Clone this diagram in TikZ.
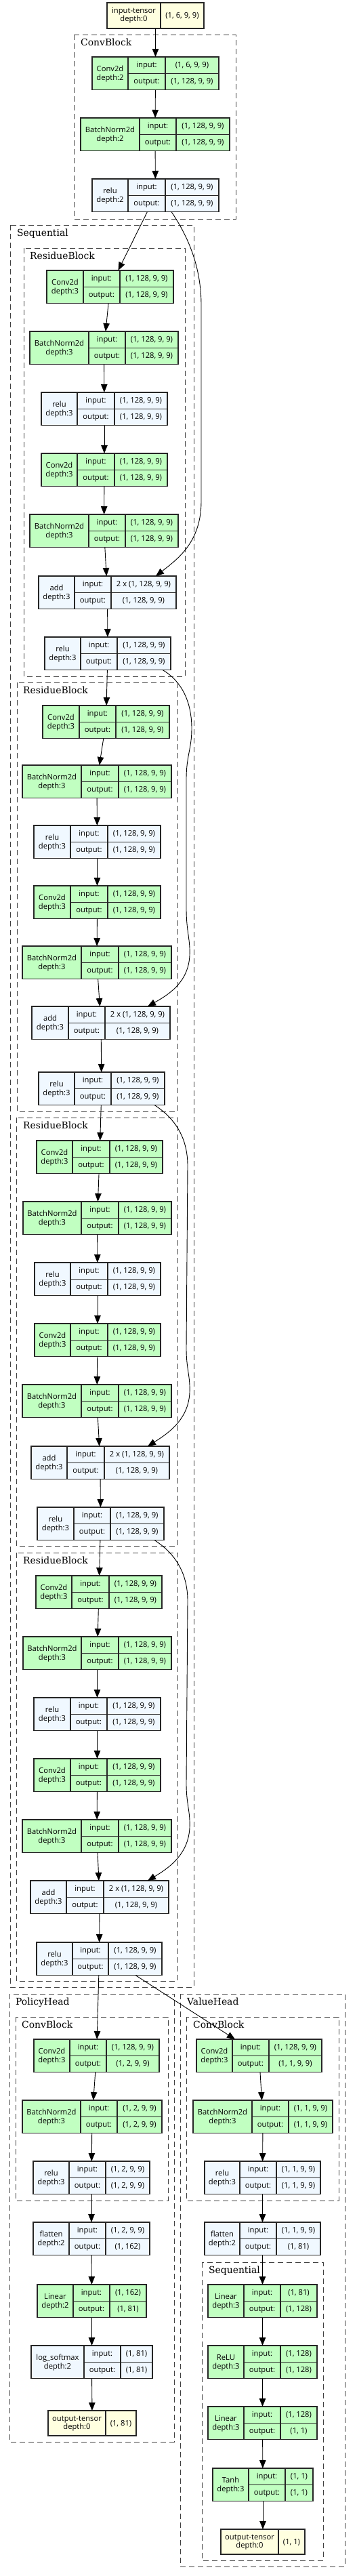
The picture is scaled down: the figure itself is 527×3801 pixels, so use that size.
\documentclass[tikz,border=0pt]{standalone}
\usepackage{fontspec}
\setmainfont{Open Sans}
\newfontfamily\clfont{DejaVu Serif}
\usetikzlibrary{arrows.meta,fit,calc}
\definecolor{gfill}{HTML}{C1FFC1}
\definecolor{bfill}{HTML}{F0F8FF}
\definecolor{yfill}{HTML}{FFFFE0}
\tikzset{
 box/.style={draw=black!85, line width=1.1pt, inner sep=0pt, outer sep=0pt},
 inner/.style={draw=black!85, line width=1.1pt},
 txt/.style={font=\fontsize{11.2}{13}\selectfont, inner sep=0pt, anchor=base},
 cluster/.style={draw=black!75, line width=1pt, dash pattern=on 8pt off 5pt},
 cllabel/.style={font=\clfont\fontsize{13.9}{16}\selectfont, anchor=base west, inner sep=0pt},
 arr/.style={draw=black, line width=0.9pt, -{Triangle[length=12pt,width=9.5pt]}},
}
\def\opparse#1,#2,#3,#4,#5\relax{\def\xa{#1}\def\xb{#2}\def\xc{#3}\def\xd{#4}\def\yt{#5}}
\newcommand\opbox[7]{%
 \opparse#3\relax
 \node[box, fill=#2, fit={(\xa,\yt)(\xd,\yt+48.5)}] (#1) {};
 \draw[inner] (\xb,\yt) -- (\xb,\yt+48.5) (\xc,\yt) -- (\xc,\yt+48.5) (\xb,\yt+24.25) -- (\xd,\yt+24.25);
 \node[txt] (#1-t) at ({(\xa+\xb)/2},\yt+21) {#4};
 \node[txt] (#1-d) at ({(\xa+\xb)/2},\yt+34) {depth:#5};
 \node[txt] (#1-i) at ({(\xb+\xc)/2},\yt+15.5) {input:};
 \node[txt] (#1-o) at ({(\xb+\xc)/2},\yt+39.5) {output:};
 \node[txt] (#1-iv) at ({(\xc+\xd)/2},\yt+15.5) {#6};
 \node[txt] (#1-ov) at ({(\xc+\xd)/2},\yt+39.5) {#7};
}
\def\tparse#1,#2,#3,#4,#5\relax{\def\xa{#1}\def\xb{#2}\def\xc{#3}\def\yt{#4}\def\hh{#5}}
\newcommand\tensbox[4]{%
 \tparse#2\relax
 \node[box, fill=yfill, fit={(\xa,\yt)(\xc,\yt+\hh)}] (#1) {};
 \draw[inner] (\xb,\yt) -- (\xb,\yt+\hh);
 \node[txt] (#1-t) at ({(\xa+\xb)/2},\yt+\hh/2-3.5) {#3};
 \node[txt] (#1-d) at ({(\xa+\xb)/2},\yt+\hh/2+8.5) {depth:0};
 \node[txt] (#1-v) at ({(\xb+\xc)/2},\yt+\hh/2+4) {#4};
}
\begin{document}
\begin{tikzpicture}[x=1pt,y=-1pt]
\fill[white] (0,0) rectangle (527,3801);
\useasboundingbox (0,0) rectangle (527,3801);

% clusters
\draw[cluster] (109,51) rectangle (348,323);
\node[cllabel] (l0) at (119,67) {ConvBlock};
\draw[cluster] (15,332) rectangle (286,2932);
\node[cllabel] (l1) at (25,348) {Sequential};
\draw[cluster] (35,366) rectangle (273,998);
\node[cllabel] (l2) at (44,382) {ResidueBlock};
\draw[cluster] (25,1007) rectangle (262,1640);
\node[cllabel] (l3) at (34,1023) {ResidueBlock};
\draw[cluster] (24,1649) rectangle (262,2281);
\node[cllabel] (l4) at (34,1665) {ResidueBlock};
\draw[cluster] (24,2291) rectangle (262,2923);
\node[cllabel] (l5) at (34,2307) {ResidueBlock};
\draw[cluster] (14,2942) rectangle (257,3603);
\node[cllabel] (l6) at (23,2958) {PolicyHead};
\draw[cluster] (266,2942) rectangle (509,3787);
\node[cllabel] (l7) at (276,2958) {ValueHead};
\draw[cluster] (23,2976) rectangle (248,3247);
\node[cllabel] (l8) at (32,2992) {ConvBlock};
\draw[cluster] (275,2976) rectangle (500,3247);
\node[cllabel] (l9) at (285,2992) {ConvBlock};
\draw[cluster] (298,3338) rectangle (477,3778);
\node[cllabel] (l10) at (308,3354) {Sequential};

% top
\tensbox{in}{158,237,301,4,38}{input-tensor}{(1, 6, 9, 9)}
\opbox{cbc}{gfill}{136,189,244,323,84}{Conv2d}{2}{(1, 6, 9, 9)}{(1, 128, 9, 9)}
\opbox{cbb}{gfill}{119,206,260,339,174}{BatchNorm2d}{2}{(1, 128, 9, 9)}{(1, 128, 9, 9)}
\opbox{cbu}{bfill}{136,189,244,323,264}{relu}{2}{(1, 128, 9, 9)}{(1, 128, 9, 9)}

% block 1
\opbox{r1c1}{gfill}{69,123,177,256,399}{Conv2d}{3}{(1, 128, 9, 9)}{(1, 128, 9, 9)}
\opbox{r1b1}{gfill}{44,131,185,263,489}{BatchNorm2d}{3}{(1, 128, 9, 9)}{(1, 128, 9, 9)}
\opbox{r1u1}{bfill}{61,114,169,247,579}{relu}{3}{(1, 128, 9, 9)}{(1, 128, 9, 9)}
\opbox{r1c2}{gfill}{61,114,169,247,669}{Conv2d}{3}{(1, 128, 9, 9)}{(1, 128, 9, 9)}
\opbox{r1b2}{gfill}{44,131,185,263,759}{BatchNorm2d}{3}{(1, 128, 9, 9)}{(1, 128, 9, 9)}
\opbox{r1a}{bfill}{57,110,164,260,850}{add}{3}{2 x (1, 128, 9, 9)}{(1, 128, 9, 9)}
\opbox{r1u2}{bfill}{66,119,173,252,940}{relu}{3}{(1, 128, 9, 9)}{(1, 128, 9, 9)}

% block 2
\opbox{r2c1}{gfill}{63,117,171,250,1041}{Conv2d}{3}{(1, 128, 9, 9)}{(1, 128, 9, 9)}
\opbox{r2b1}{gfill}{33,120,175,253,1129}{BatchNorm2d}{3}{(1, 128, 9, 9)}{(1, 128, 9, 9)}
\opbox{r2u1}{bfill}{50,104,159,237,1218}{relu}{3}{(1, 128, 9, 9)}{(1, 128, 9, 9)}
\opbox{r2c2}{gfill}{50,104,159,237,1307}{Conv2d}{3}{(1, 128, 9, 9)}{(1, 128, 9, 9)}
\opbox{r2b2}{gfill}{33,120,175,253,1396}{BatchNorm2d}{3}{(1, 128, 9, 9)}{(1, 128, 9, 9)}
\opbox{r2a}{bfill}{47,101,155,251,1485}{add}{3}{2 x (1, 128, 9, 9)}{(1, 128, 9, 9)}
\opbox{r2u2}{bfill}{57,110,164,243,1582}{relu}{3}{(1, 128, 9, 9)}{(1, 128, 9, 9)}

% block 3
\opbox{r3c1}{gfill}{54,107,162,240,1683}{Conv2d}{3}{(1, 128, 9, 9)}{(1, 128, 9, 9)}
\opbox{r3b1}{gfill}{34,120,175,253,1773}{BatchNorm2d}{3}{(1, 128, 9, 9)}{(1, 128, 9, 9)}
\opbox{r3u1}{bfill}{51,104,159,237,1863}{relu}{3}{(1, 128, 9, 9)}{(1, 128, 9, 9)}
\opbox{r3c2}{gfill}{51,104,159,237,1953}{Conv2d}{3}{(1, 128, 9, 9)}{(1, 128, 9, 9)}
\opbox{r3b2}{gfill}{33,120,175,253,2043}{BatchNorm2d}{3}{(1, 128, 9, 9)}{(1, 128, 9, 9)}
\opbox{r3a}{bfill}{46,99,154,250,2134}{add}{3}{2 x (1, 128, 9, 9)}{(1, 128, 9, 9)}
\opbox{r3u2}{bfill}{55,109,163,242,2224}{relu}{3}{(1, 128, 9, 9)}{(1, 128, 9, 9)}

% block 4
\opbox{r4c1}{gfill}{53,106,161,239,2325}{Conv2d}{3}{(1, 128, 9, 9)}{(1, 128, 9, 9)}
\opbox{r4b1}{gfill}{34,120,175,253,2415}{BatchNorm2d}{3}{(1, 128, 9, 9)}{(1, 128, 9, 9)}
\opbox{r4u1}{bfill}{50,104,158,237,2505}{relu}{3}{(1, 128, 9, 9)}{(1, 128, 9, 9)}
\opbox{r4c2}{gfill}{50,104,158,237,2595}{Conv2d}{3}{(1, 128, 9, 9)}{(1, 128, 9, 9)}
\opbox{r4b2}{gfill}{33,120,175,253,2685}{BatchNorm2d}{3}{(1, 128, 9, 9)}{(1, 128, 9, 9)}
\opbox{r4a}{bfill}{45,98,153,249,2775}{add}{3}{2 x (1, 128, 9, 9)}{(1, 128, 9, 9)}
\opbox{r4u2}{bfill}{54,107,160,239,2866}{relu}{3}{(1, 128, 9, 9)}{(1, 128, 9, 9)}

% policy head
\opbox{pc}{gfill}{50,103,157,235,3009}{Conv2d}{3}{(1, 128, 9, 9)}{(1, 2, 9, 9)}
\opbox{pb}{gfill}{33,119,173,239,3099}{BatchNorm2d}{3}{(1, 2, 9, 9)}{(1, 2, 9, 9)}
\opbox{pu}{bfill}{49,102,156,221,3189}{relu}{3}{(1, 2, 9, 9)}{(1, 2, 9, 9)}
\opbox{pf}{bfill}{49,102,156,221,3279}{flatten}{2}{(1, 2, 9, 9)}{(1, 162)}
\opbox{pl}{gfill}{55,108,162,216,3371}{Linear}{2}{(1, 162)}{(1, 81)}
\opbox{ps}{bfill}{46,124,178,225,3461}{log\_softmax}{2}{(1, 81)}{(1, 81)}
\tensbox{pout}{71,156,201,3557,37}{output-tensor}{(1, 81)}

% value head
\opbox{vc}{gfill}{290,343,397,475,3009}{Conv2d}{3}{(1, 128, 9, 9)}{(1, 1, 9, 9)}
\opbox{vb}{gfill}{285,372,426,491,3099}{BatchNorm2d}{3}{(1, 1, 9, 9)}{(1, 1, 9, 9)}
\opbox{vu}{bfill}{302,354,408,473,3189}{relu}{3}{(1, 1, 9, 9)}{(1, 1, 9, 9)}
\opbox{vf}{bfill}{302,354,408,473,3279}{flatten}{2}{(1, 1, 9, 9)}{(1, 81)}
\opbox{vl1}{gfill}{307,360,414,468,3371}{Linear}{3}{(1, 81)}{(1, 128)}
\opbox{vr}{gfill}{307,360,414,468,3461}{ReLU}{3}{(1, 128)}{(1, 128)}
\opbox{vl2}{gfill}{307,360,414,468,3551}{Linear}{3}{(1, 128)}{(1, 1)}
\opbox{vt}{gfill}{314,367,421,462,3642}{Tanh}{3}{(1, 1)}{(1, 1)}
\tensbox{vout}{326,411,450,3732,37}{output-tensor}{(1, 1)}

% edges
\draw[arr] (in) -- (cbc);
\draw[arr] (cbc) -- (cbb);
\draw[arr] (cbb) -- (cbu);
\draw[arr] (cbu) -- (r1c1);
\draw[arr] ([xshift=23.5pt]cbu.south) .. controls (275,345) and (297,390) .. (297,450) -- (297,740) .. controls (297,800) and (262,825) .. ([xshift=71.5pt]r1a.north);
\draw[arr] (r1c1) -- (r1b1);
\draw[arr] (r1b1) -- (r1u1);
\draw[arr] (r1u1) -- (r1c2);
\draw[arr] (r1c2) -- (r1b2);
\draw[arr] (r1b2) -- (r1a);
\draw[arr] (r1a) -- (r1u2);
\draw[arr] (r1u2) -- (r2c1);
\draw[arr] ([xshift=81pt]r1u2.south) .. controls (268,1005) and (283,1035) .. (283,1075) .. controls (283,1105) and (275,1115) .. (275,1150) -- (275,1340) .. controls (275,1375) and (281,1385) .. (280,1410) .. controls (278,1450) and (248,1468) .. ([xshift=69pt]r2a.north);
\draw[arr] (r2c1) -- (r2b1);
\draw[arr] (r2b1) -- (r2u1);
\draw[arr] (r2u1) -- (r2c2);
\draw[arr] (r2c2) -- (r2b2);
\draw[arr] (r2b2) -- (r2a);
\draw[arr] (r2a) -- (r2u2);
\draw[arr] (r2u2) -- (r3c1);
\draw[arr] ([xshift=78pt]r2u2.south) .. controls (255,1648) and (277,1675) .. (277,1720) -- (275,1990) .. controls (275,2020) and (281,2030) .. (280,2055) .. controls (278,2095) and (248,2115) .. ([xshift=70pt]r3a.north);
\draw[arr] (r3c1) -- (r3b1);
\draw[arr] (r3b1) -- (r3u1);
\draw[arr] (r3u1) -- (r3c2);
\draw[arr] (r3c2) -- (r3b2);
\draw[arr] (r3b2) -- (r3a);
\draw[arr] (r3a) -- (r3u2);
\draw[arr] (r3u2) -- (r4c1);
\draw[arr] ([xshift=79.5pt]r3u2.south) .. controls (255,2290) and (277,2317) .. (277,2362) -- (275,2632) .. controls (275,2662) and (281,2672) .. (280,2697) .. controls (278,2737) and (248,2757) .. ([xshift=71pt]r4a.north);
\draw[arr] (r4c1) -- (r4b1);
\draw[arr] (r4b1) -- (r4u1);
\draw[arr] (r4u1) -- (r4c2);
\draw[arr] (r4c2) -- (r4b2);
\draw[arr] (r4b2) -- (r4a);
\draw[arr] (r4a) -- (r4u2);
\draw[arr] (r4u2) -- (pc);
\draw[arr] ([xshift=53.5pt]r4u2.south) -- ([xshift=-35.5pt]vc.north);
\draw[arr] (pc) -- (pb);
\draw[arr] (pb) -- (pu);
\draw[arr] (pu) -- (pf);
\draw[arr] (pf) -- (pl);
\draw[arr] (pl) -- (ps);
\draw[arr] (ps) -- (pout);
\draw[arr] (vc) -- (vb);
\draw[arr] (vb) -- (vu);
\draw[arr] (vu) -- (vf);
\draw[arr] (vf) -- (vl1);
\draw[arr] (vl1) -- (vr);
\draw[arr] (vr) -- (vl2);
\draw[arr] (vl2) -- (vt);
\draw[arr] (vt) -- (vout);
\end{tikzpicture}
\end{document}
